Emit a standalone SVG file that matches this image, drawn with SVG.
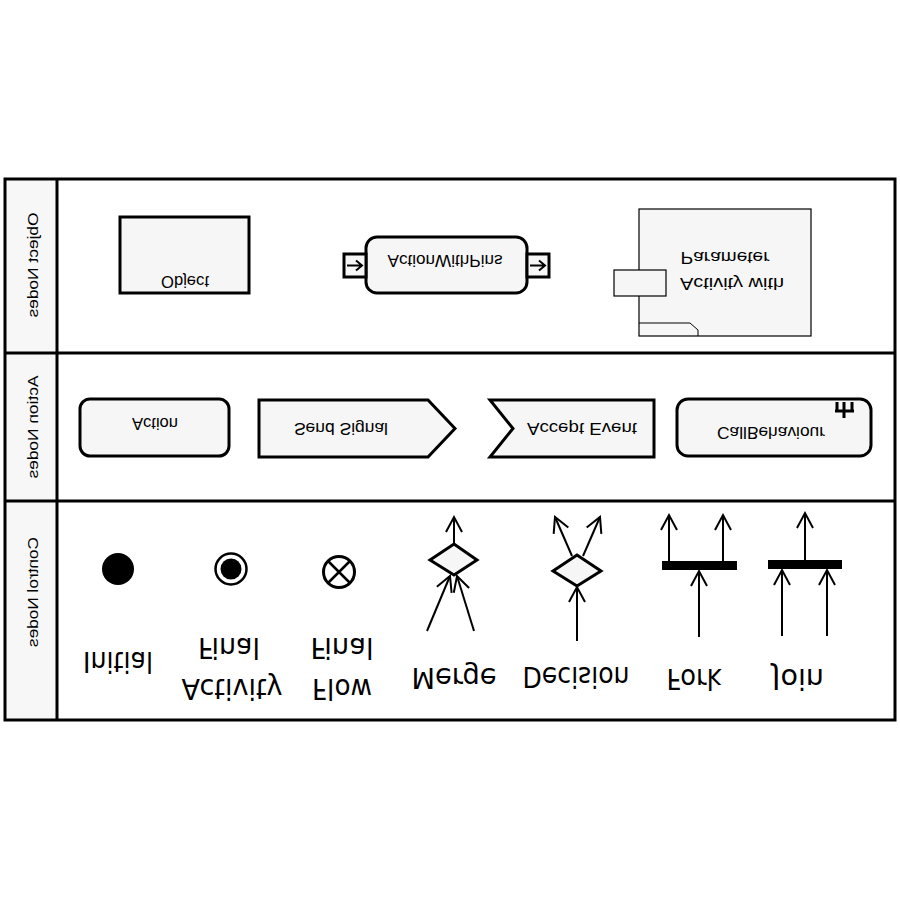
<svg xmlns="http://www.w3.org/2000/svg" width="900" height="900" viewBox="0 0 900 900">
<style>
.frame{fill:none;stroke:#000;stroke-width:3}
.lanecol{fill:#f7f7f7;stroke:none}
.node{fill:#f6f6f6;stroke:#000;stroke-width:3}
.thin{fill:#f6f6f6;stroke:#000;stroke-width:1.2}
.edge{fill:none;stroke:#000;stroke-width:2}
.lbl{font-family:"Liberation Sans",Arial,sans-serif;font-size:17px;fill:#000;text-anchor:middle}
.lane{font-family:"Liberation Sans",Arial,sans-serif;font-size:15px;fill:#000;text-anchor:middle}
.ctl{font-family:"DejaVu Sans","Liberation Sans",sans-serif;font-size:28px;fill:#000;text-anchor:middle}
.bar{fill:#000}
</style>
<defs>
<marker id="open" viewBox="-17 -10 18 20" markerWidth="18" markerHeight="20" markerUnits="userSpaceOnUse" refX="0" refY="0" orient="auto" overflow="visible">
<path d="M-15,-8 L0,0 L-15,8" fill="none" stroke="#000" stroke-width="2"/>
</marker>
</defs>
<rect width="900" height="900" fill="#fff"/>

<g id="lanes">
<rect class="lanecol" x="6" y="180" width="51" height="539"/>
<rect class="frame" x="5" y="179" width="890" height="541"/>
<line class="frame" x1="57" y1="179" x2="57" y2="720"/>
<line class="frame" x1="5" y1="353" x2="895" y2="353"/>
<line class="frame" x1="5" y1="501" x2="895" y2="501"/>
<text class="lane" transform="matrix(0,1,1,0,38,265)" textLength="105" lengthAdjust="spacingAndGlyphs">Object Nodes</text>
<text class="lane" transform="matrix(0,1,1,0,38,427)" textLength="103" lengthAdjust="spacingAndGlyphs">Action Nodes</text>
<text class="lane" transform="matrix(0,1,1,0,38,592)" textLength="110" lengthAdjust="spacingAndGlyphs">Control Nodes</text>
</g>

<g id="object">
<rect class="node" x="120" y="217" width="129" height="76"/>
<text class="lbl" transform="matrix(1,0,0,-1,185,276)" font-size="16" textLength="48" lengthAdjust="spacingAndGlyphs">Object</text>
</g>

<g id="action-with-pins">
<rect class="node" x="366" y="237" width="161" height="56" rx="11"/>
<rect class="node" x="344" y="254" width="22" height="23"/>
<rect class="node" x="527" y="254" width="22" height="23"/>
<path class="edge" d="M347,265.5 H362 M356,260.5 L362,265.5 L356,270.5"/>
<path class="edge" d="M530,265.5 H545 M539,260.5 L545,265.5 L539,270.5"/>
<text class="lbl" transform="matrix(1,0,0,-1,445,255)" font-size="16" textLength="115" lengthAdjust="spacingAndGlyphs">ActionWithPins</text>
</g>

<g id="activity-with-parameter">
<rect class="thin" x="639" y="209" width="172" height="127"/>
<path d="M639,323 H690 L698,330 V336" fill="none" stroke="#000" stroke-width="1"/>
<rect class="thin" x="614" y="270" width="52" height="26"/>
<text class="lbl" transform="matrix(1,0,0,-1,725,252)" font-size="18" textLength="89" lengthAdjust="spacingAndGlyphs">Parameter</text>
<text class="lbl" transform="matrix(1,0,0,-1,732,278)" font-size="19" textLength="104" lengthAdjust="spacingAndGlyphs">Activity with</text>
</g>

<g id="action">
<rect class="node" x="80" y="399" width="149" height="57" rx="10"/>
<text class="lbl" transform="matrix(1,0,0,-1,155,418)" font-size="16" textLength="46" lengthAdjust="spacingAndGlyphs">Action</text>
</g>

<g id="send-signal">
<path class="node" d="M259,400 H428 L455,428.5 L428,457 H259 Z"/>
<text class="lbl" transform="matrix(1,0,0,-1,341,423)" textLength="94" lengthAdjust="spacingAndGlyphs">Send Signal</text>
</g>

<g id="accept-event">
<path class="node" d="M490,400 H654 V457 H490 L513,428.5 Z"/>
<text class="lbl" transform="matrix(1,0,0,-1,582,423)" font-size="18" textLength="110" lengthAdjust="spacingAndGlyphs">Accept Event</text>
</g>

<g id="call-behaviour">
<rect class="node" x="677" y="399" width="194" height="57" rx="11"/>
<path d="M837,402 V411 M844,402 V418 M852,402 V411 M835,411 H854" fill="none" stroke="#000" stroke-width="3"/>
<text class="lbl" transform="matrix(1,0,0,-1,771,427)" textLength="108" lengthAdjust="spacingAndGlyphs">CallBehaviour</text>
</g>

<g id="initial">
<circle cx="118" cy="569" r="16" fill="#000"/>
<text class="ctl" transform="matrix(1,0,0,-1,118,652)" textLength="70" lengthAdjust="spacingAndGlyphs">Initial</text>
</g>

<g id="activity-final">
<circle cx="231" cy="569" r="15.5" fill="#fff" stroke="#000" stroke-width="2.5"/>
<circle cx="231" cy="569" r="10.5" fill="#000"/>
<text class="ctl" transform="matrix(1,0,0,-1,229,638)" textLength="62" lengthAdjust="spacingAndGlyphs">Final</text>
<text class="ctl" transform="matrix(1,0,0,-1,232,679)" textLength="101" lengthAdjust="spacingAndGlyphs">Activity</text>
</g>

<g id="flow-final">
<circle cx="339" cy="572" r="15.5" fill="#fff" stroke="#000" stroke-width="3"/>
<path d="M328,561 L350,583 M350,561 L328,583" stroke="#000" stroke-width="2.5"/>
<text class="ctl" transform="matrix(1,0,0,-1,342,638)" textLength="63" lengthAdjust="spacingAndGlyphs">Final</text>
<text class="ctl" transform="matrix(1,0,0,-1,342,679)" textLength="60" lengthAdjust="spacingAndGlyphs">Flow</text>
</g>

<g id="merge">
<path class="node" d="M430,560 L454,544 L477,560 L454,575 Z"/>
<text class="ctl" transform="matrix(1,0,0,-1,454,668)" textLength="85" lengthAdjust="spacingAndGlyphs">Merge</text>
</g>

<g id="decision">
<path class="node" d="M553,571 L577,555 L601,571 L577,586 Z"/>
<text class="ctl" transform="matrix(1,0,0,-1,576,667)" textLength="107" lengthAdjust="spacingAndGlyphs">Decision</text>
</g>

<g id="fork">
<rect class="bar" x="662" y="561" width="75" height="9"/>
<text class="ctl" transform="matrix(1,0,0,-1,694,669)" textLength="55" lengthAdjust="spacingAndGlyphs">Fork</text>
</g>

<g id="join">
<rect class="bar" x="768" y="560" width="74" height="9"/>
<text class="ctl" transform="matrix(1,0,0,-1,798,669)" textLength="52" lengthAdjust="spacingAndGlyphs">Join</text>
</g>

<g id="connectors">
<line class="edge" x1="454" y1="544" x2="454" y2="517" marker-end="url(#open)"/>
<line class="edge" x1="427" y1="631" x2="450" y2="576" marker-end="url(#open)"/>
<line class="edge" x1="474" y1="631" x2="457" y2="576" marker-end="url(#open)"/>
<line class="edge" x1="577" y1="641" x2="577" y2="587" marker-end="url(#open)"/>
<line class="edge" x1="572" y1="556" x2="555" y2="517" marker-end="url(#open)"/>
<line class="edge" x1="583" y1="556" x2="600" y2="517" marker-end="url(#open)"/>
<line class="edge" x1="699" y1="637" x2="699" y2="571" marker-end="url(#open)"/>
<line class="edge" x1="669" y1="561" x2="669" y2="515" marker-end="url(#open)"/>
<line class="edge" x1="723" y1="561" x2="723" y2="515" marker-end="url(#open)"/>
<line class="edge" x1="782" y1="636" x2="782" y2="570" marker-end="url(#open)"/>
<line class="edge" x1="827" y1="636" x2="827" y2="570" marker-end="url(#open)"/>
<line class="edge" x1="805" y1="560" x2="805" y2="513" marker-end="url(#open)"/>
</g>
</svg>
